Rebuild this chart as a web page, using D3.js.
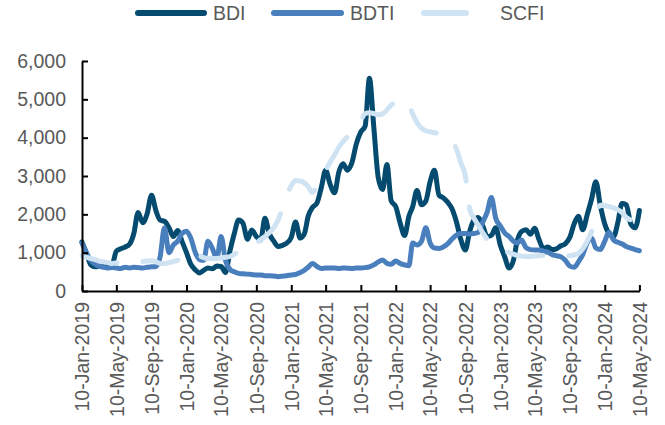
<!DOCTYPE html>
<html>
<head>
<meta charset="utf-8">
<script src="https://cdn.jsdelivr.net/npm/d3@7"></script>
<style>
  html, body { margin: 0; padding: 0; background: #ffffff; }
  svg { display: block; }
  text { font-family: "Liberation Sans", Arial, sans-serif; }
</style>
</head>
<body>
<svg id="chart" width="665" height="425"></svg>
<script>
// ---- data ----
const dates = [
  "2019-01-10","2019-01-25","2019-02-10","2019-02-25","2019-03-10","2019-03-25","2019-04-10","2019-04-25","2019-05-10","2019-05-25","2019-06-10","2019-06-25",
  "2019-07-10","2019-07-25","2019-08-10","2019-08-25","2019-09-10","2019-09-25","2019-10-10","2019-10-25","2019-11-10","2019-11-25","2019-12-10","2019-12-25",
  "2020-01-10","2020-01-25","2020-02-10","2020-02-25","2020-03-10","2020-03-25","2020-04-10","2020-04-25","2020-05-10","2020-05-25","2020-06-10","2020-06-25",
  "2020-07-10","2020-07-25","2020-08-10","2020-08-25","2020-09-10","2020-09-25","2020-10-10","2020-10-25","2020-11-10","2020-11-25","2020-12-10","2020-12-25",
  "2021-01-10","2021-01-25","2021-02-10","2021-02-25","2021-03-10","2021-03-25","2021-04-10","2021-04-25","2021-05-10","2021-05-25","2021-06-10","2021-06-25",
  "2021-07-10","2021-07-25","2021-08-10","2021-08-25","2021-09-10","2021-09-25","2021-10-10","2021-10-25","2021-11-10","2021-11-25","2021-12-10","2021-12-25",
  "2022-01-10","2022-01-25","2022-02-10","2022-02-25","2022-03-10","2022-03-25","2022-04-10","2022-04-25","2022-05-10","2022-05-25","2022-06-10","2022-06-25",
  "2022-07-10","2022-07-25","2022-08-10","2022-08-25","2022-09-10","2022-09-25","2022-10-10","2022-10-25","2022-11-10","2022-11-25","2022-12-10","2022-12-25",
  "2023-01-10","2023-01-25","2023-02-10","2023-02-25","2023-03-10","2023-03-25","2023-04-10","2023-04-25","2023-05-10","2023-05-25","2023-06-10","2023-06-25",
  "2023-07-10","2023-07-25","2023-08-10","2023-08-25","2023-09-10","2023-09-25","2023-10-10","2023-10-25","2023-11-10","2023-11-25","2023-12-10","2023-12-25",
  "2024-01-10","2024-01-25","2024-02-10","2024-02-25","2024-03-10","2024-03-25","2024-04-10","2024-04-25","2024-05-10"
];

const bdi = [
  1280,1000,680,630,650,690,720,690,1040,1100,1150,1220,1500,2050,1780,2000,2500,2100,1850,1820,1650,1420,1580,1300,
  1000,700,550,470,540,600,580,650,640,480,1050,1500,1850,1770,1350,1590,1420,1330,1900,1500,1300,1160,1190,1250,
  1400,1800,1380,1500,1950,2180,2300,2700,3150,2800,2560,3100,3320,3150,3350,3830,4150,4300,5550,4300,2950,2650,3300,2350,
  2200,1780,1450,1950,2200,2620,2250,2350,2850,3150,2500,2430,2320,2150,1800,1350,1070,1550,1850,1920,1700,1420,1450,1650,
  1200,900,600,800,1300,1550,1600,1480,1640,1350,1100,1150,1080,1100,1180,1230,1400,1750,1950,1600,2000,2400,2850,2250,
  1750,1500,1420,1800,2280,2250,1750,1650,2100
];

const bdti = [
  1250,1000,800,700,650,620,600,610,600,590,620,600,620,610,600,620,630,640,900,1650,1000,1200,1300,1500,
  1560,1380,1000,820,800,1300,1100,850,1420,800,560,500,460,450,440,430,420,420,400,400,390,375,385,400,
  420,430,480,540,620,720,640,590,600,600,600,590,600,595,590,600,600,610,630,680,760,810,720,700,
  780,720,680,660,1250,1200,1300,1650,1250,1120,1110,1150,1230,1350,1460,1500,1500,1490,1500,1530,1800,2050,2440,1900,
  1700,1520,1420,1300,1250,1330,1130,1080,1070,1070,1040,1010,950,920,890,800,650,620,760,950,1260,1380,1120,1080,
  1300,1530,1330,1270,1230,1160,1120,1080,1050
];

const scfi = [
  920,880,850,820,780,760,740,720,730,750,760,750,760,760,770,780,790,760,720,720,740,770,800,850,
  900,980,1000,920,870,850,850,850,860,880,900,960,1020,1080,1150,1200,1260,1340,1420,1520,1650,1850,2150,2480,
  2750,2880,2870,2820,2720,2570,2750,2950,3150,3350,3550,3750,3900,4020,4150,4300,4450,4630,4650,4630,4600,4620,4720,4850,
  4920,4960,4980,4850,4620,4400,4250,4180,4150,4130,4110,4090,4080,3950,3700,3350,3000,2150,1900,1720,1520,1350,1230,1140,
  1100,1050,1000,960,930,910,900,900,910,920,930,940,920,900,900,910,920,940,980,1100,1300,1550,1900,2240,
  2230,2200,2170,2120,2050,1920,1850,1800,1880
];

const seriesNames = ["BDI", "BDTI", "SCFI"];
const xTickDates = [
  "2019-01-10","2019-05-10","2019-09-10","2020-01-10","2020-05-10","2020-09-10",
  "2021-01-10","2021-05-10","2021-09-10","2022-01-10","2022-05-10","2022-09-10",
  "2023-01-10","2023-05-10","2023-09-10","2024-01-10","2024-05-10"
];
const yTicks = [0, 1000, 2000, 3000, 4000, 5000, 6000];

// ---- styling ----
const colors = { BDI: "#044b6f", BDTI: "#4a7fbe", SCFI: "#d0e3f3" };
const labelColor = "#595959";
const fontSize = "19.5px";

const parse = d3.timeParse("%Y-%m-%d");
const fmt = d3.timeFormat("%d-%b-%Y");

const plotLeft = 82, plotRight = 639.4, plotTop = 61, plotBottom = 291;

const svg = d3.select("#chart");

const x = d3.scaleTime()
  .domain([parse(xTickDates[0]), parse(xTickDates[xTickDates.length - 1])])
  .range([plotLeft, plotRight]);
const y = d3.scaleLinear().domain([0, 6000]).range([plotBottom, plotTop]);

const seriesData = {
  BDI: dates.map((d, i) => ({ date: parse(d), value: bdi[i] })),
  BDTI: dates.map((d, i) => ({ date: parse(d), value: bdti[i] })),
  SCFI: dates.map((d, i) => ({ date: parse(d), value: scfi[i] }))
};

const line = d3.line()
  .x(d => x(d.date))
  .y(d => y(d.value))
  .curve(d3.curveMonotoneX);

// lines: BDI bottom, BDTI, SCFI top
seriesNames.forEach(name => {
  const p = svg.append("path")
    .datum(seriesData[name])
    .attr("fill", "none")
    .attr("stroke", colors[name])
    .attr("stroke-width", 5)
    .attr("stroke-linejoin", "round")
    .attr("stroke-linecap", "round")
    .attr("d", line);
  if (name === "SCFI") p.attr("stroke-dasharray", "36 26");
});

// y axis
const yAxis = svg.append("g")
  .attr("transform", `translate(${plotLeft},0)`)
  .call(d3.axisLeft(y).tickValues(yTicks).tickFormat(d3.format(",")).tickSizeInner(-6).tickSizeOuter(0).tickPadding(16));
yAxis.select(".domain").attr("stroke", "#000").attr("stroke-width", 2);
yAxis.selectAll(".tick line").attr("stroke", "#000").attr("stroke-width", 2);
yAxis.selectAll(".tick text")
  .attr("fill", labelColor)
  .style("font-size", fontSize)
  .style("font-family", '"Liberation Sans", Arial, sans-serif');

// x axis
const xAxis = svg.append("g")
  .attr("transform", `translate(0,${plotBottom})`)
  .call(d3.axisBottom(x).tickValues(xTickDates.map(parse)).tickFormat(fmt).tickSizeInner(-6).tickSizeOuter(0));
xAxis.select(".domain").attr("stroke", "#000").attr("stroke-width", 2);
xAxis.selectAll(".tick line").attr("stroke", "#000").attr("stroke-width", 2);
xAxis.selectAll(".tick text")
  .attr("fill", labelColor)
  .attr("transform", "rotate(-90)")
  .attr("x", -11)
  .attr("y", 0)
  .attr("dy", "0.35em")
  .style("text-anchor", "end")
  .style("font-size", fontSize)
  .style("font-family", '"Liberation Sans", Arial, sans-serif');

// legend
const legendItems = [
  { name: "BDI", x1: 138, x2: 204, tx: 213 },
  { name: "BDTI", x1: 274, x2: 341, tx: 350 },
  { name: "SCFI", x1: 424, x2: 466, tx: 500 }
];
const legend = svg.append("g");
legendItems.forEach(it => {
  legend.append("line")
    .attr("x1", it.x1).attr("x2", it.x2)
    .attr("y1", 13).attr("y2", 13)
    .attr("stroke", colors[it.name])
    .attr("stroke-width", 6)
    .attr("stroke-linecap", "round");
  legend.append("text")
    .attr("x", it.tx).attr("y", 13)
    .attr("dy", "0.35em")
    .attr("fill", labelColor)
    .style("font-size", fontSize)
    .text(it.name);
});
</script>
</body>
</html>
